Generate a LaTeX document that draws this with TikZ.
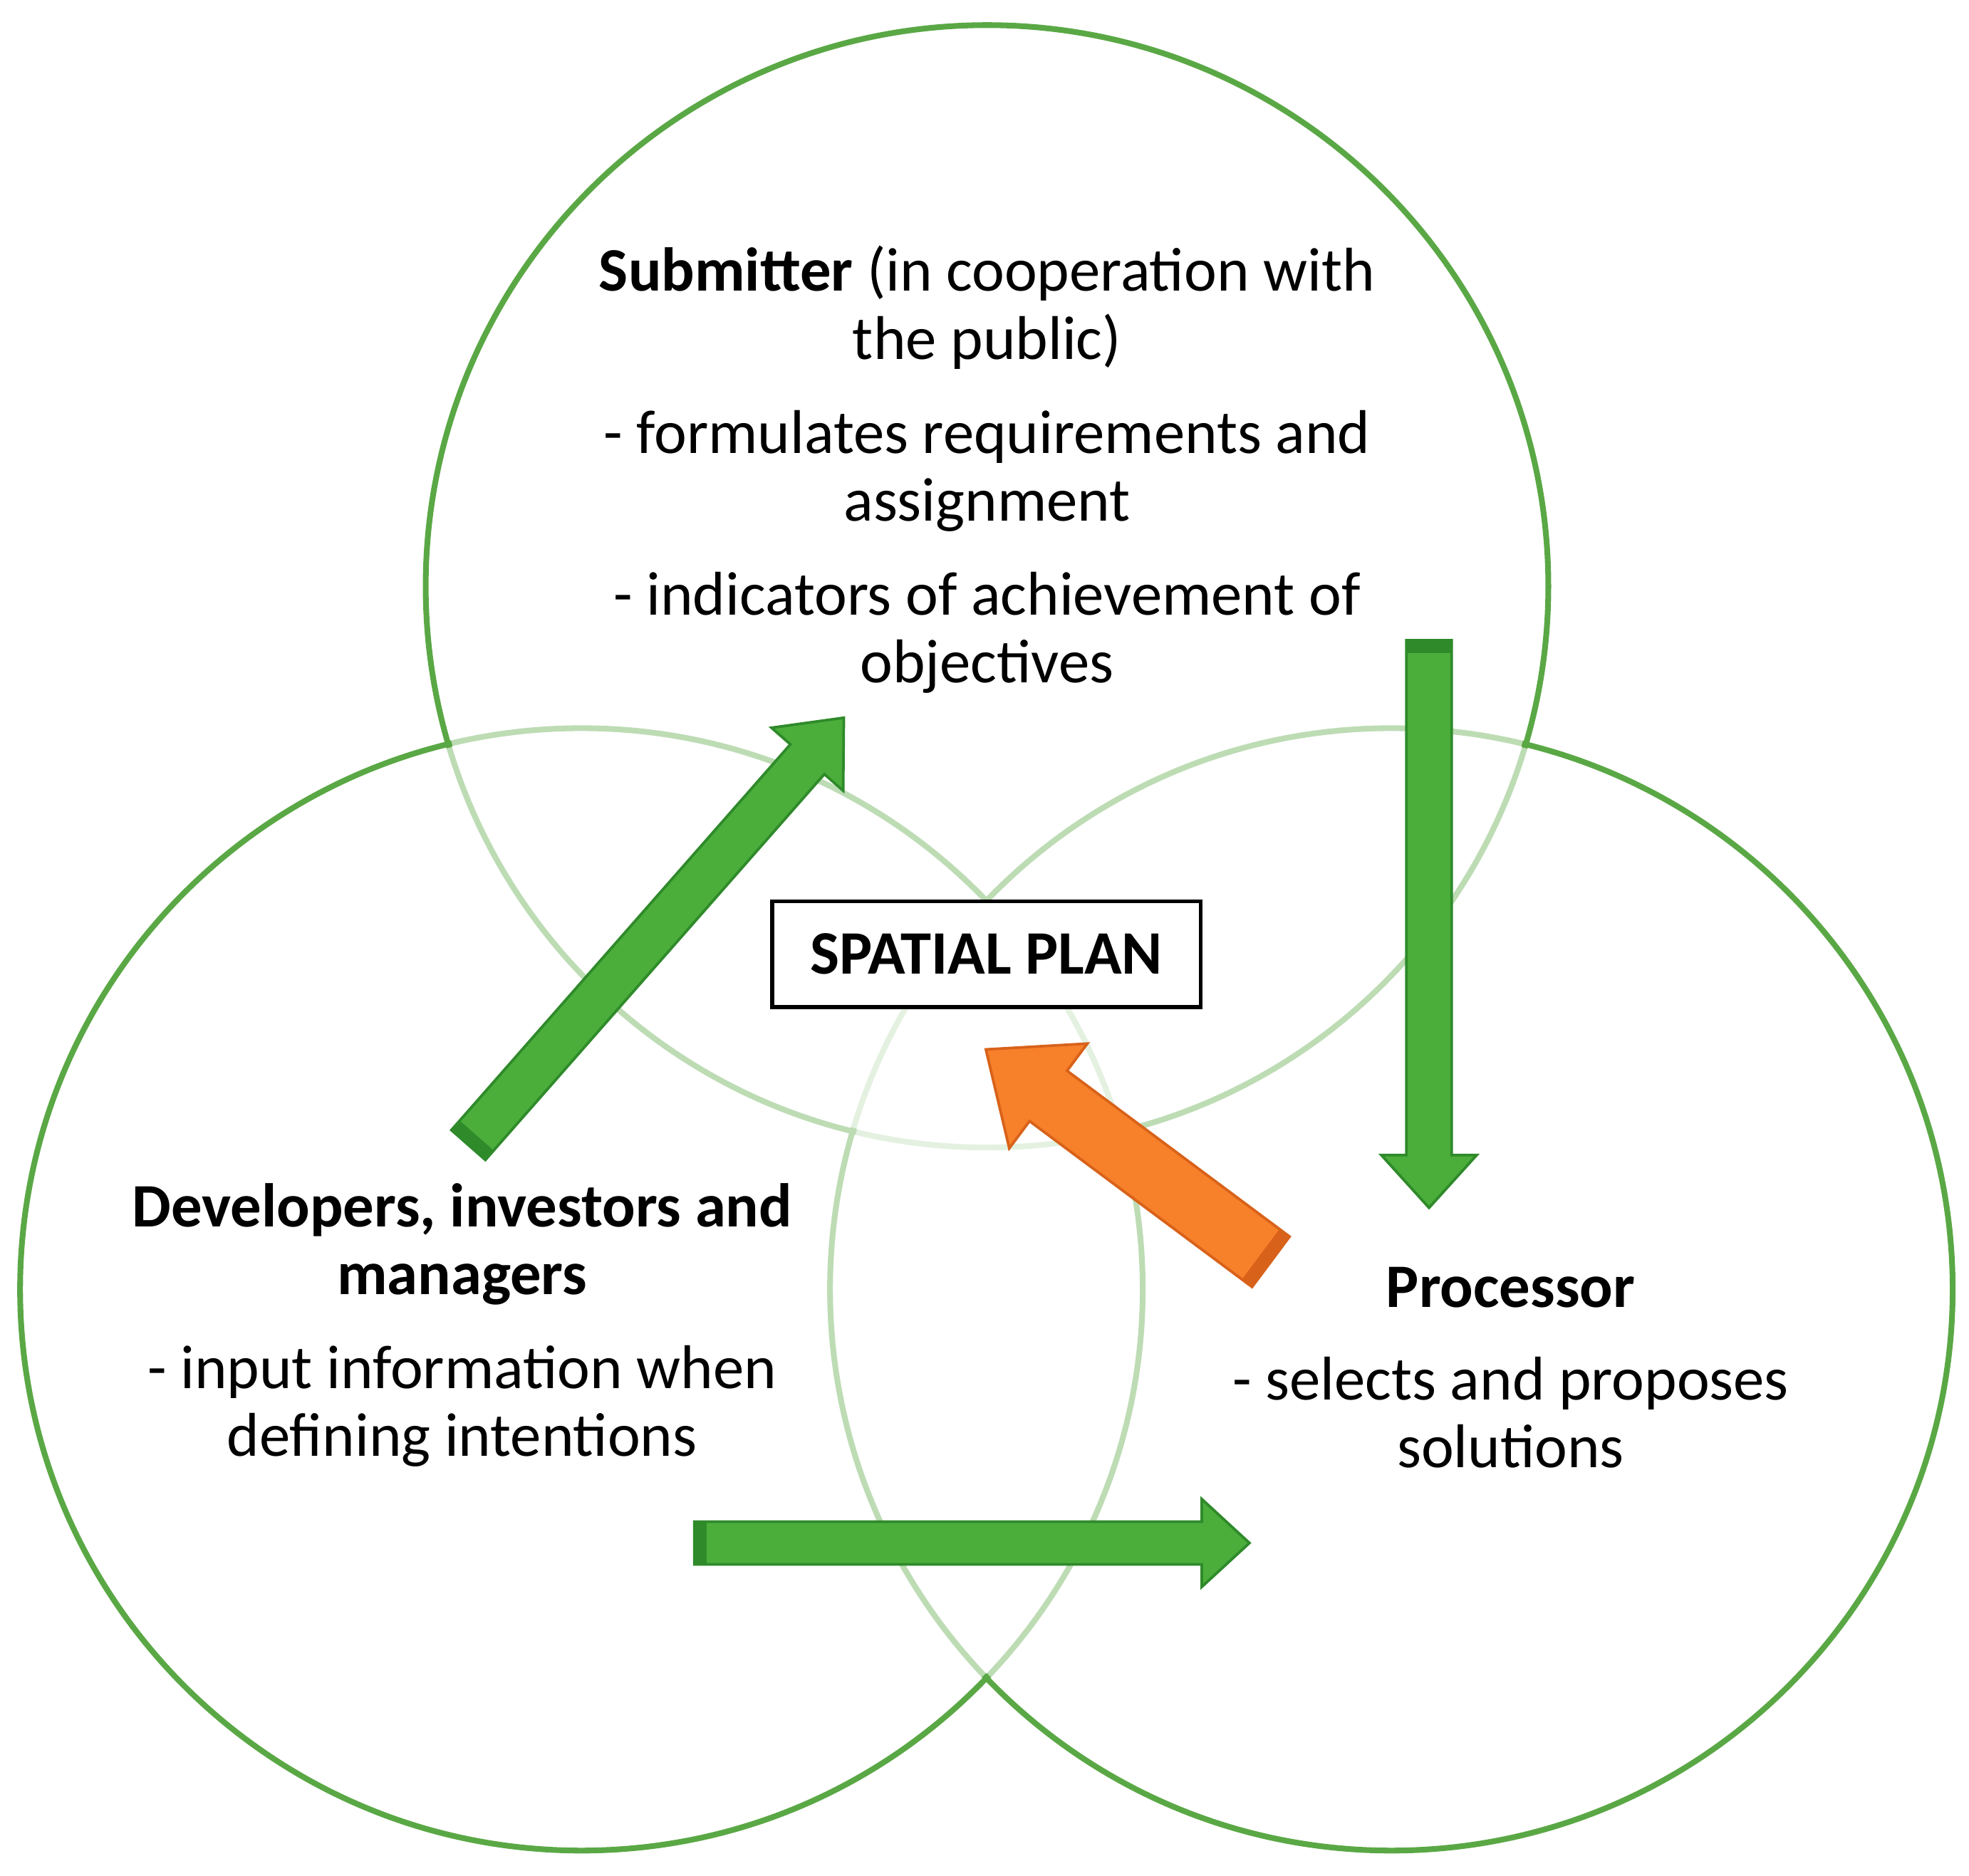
\documentclass[tikz,border=0pt]{standalone}
\usepackage{fontspec}
\setmainfont{Carlito}
\definecolor{cdark}{HTML}{5AA845}
\definecolor{agreen}{HTML}{4BAE3B}
\definecolor{agreenD}{HTML}{2F8A2A}
\definecolor{aor}{HTML}{F7802A}
\definecolor{aorD}{HTML}{D8621A}
\newcommand{\blockarrow}[9]{% x y angle L s H h fill edge
\begin{scope}[shift={(#1,#2)},rotate=#3]
\fill[#8] (0,-#5)--(#4-#7,-#5)--(#4-#7,-#6)--(#4,0)--(#4-#7,#6)--(#4-#7,#5)--(0,#5)--cycle;
\fill[#9] (0,-#5) rectangle (10,#5);
\draw[#9,line width=0.6pt] (0,-#5)--(#4-#7,-#5)--(#4-#7,-#6)--(#4,0)--(#4-#7,#6)--(#4-#7,#5)--(0,#5)--cycle;
\end{scope}}
\tikzset{t/.style={font=\fontsize{14}{16}\selectfont,inner sep=0pt,anchor=base},
 b/.style={t,font=\fontsize{14}{16}\selectfont\bfseries}}
\begin{document}
\begin{tikzpicture}[x=0.01cm,y=-0.01cm]
\useasboundingbox (0,0) rectangle (1568,1494);
\foreach \c/\x/\y in {T/786/467,L/463/1027,R/1108/1027}{
 \draw[cdark,line width=1.3pt] (\x,\y) circle (447);}
\foreach \x/\y in {786/467,463/1027,1108/1027}{
 \fill[white,opacity=0.6] (\x,\y) circle (444);}
\node[t] (s1) at (786,232) {\textbf{Submitter} (in cooperation with};
\node[t] (s2) at (786,286) {the public)};
\node[t] (s3) at (786,361) {- formulates requirements and};
\node[t] (s4) at (786,415) {assignment};
\node[t] (s5) at (786,490) {- indicators of achievement of};
\node[t] (s6) at (786,544) {objectives};
\node[b] (d1) at (368,977) {Developers, investors and};
\node[b] (d2) at (368,1031) {managers};
\node[t] (d3) at (368,1106) {- input information when};
\node[t] (d4) at (368,1160) {defining intentions};
\node[b] (p1) at (1203,1041) {Processor};
\node[t] (p2) at (1203,1115) {- selects and proposes};
\node[t] (p3) at (1203,1169) {solutions};
\node[draw=black,fill=white,line width=0.9pt,minimum width=3.41cm,minimum height=0.84cm,font=\fontsize{14}{16}\selectfont\bfseries] (sp) at (785.5,760) {SPATIAL PLAN};
\blockarrow{373}{912}{48.7}{453}{18}{38}{44}{agreen}{agreenD}
\blockarrow{1138}{510}{-90}{452}{18}{38}{42}{agreen}{agreenD}
\blockarrow{553}{1229}{0}{442}{17}{35}{38}{agreen}{agreenD}
\blockarrow{1012}{1005}{143.3}{283}{25}{52}{62}{aor}{aorD}
\end{tikzpicture}
\end{document}
